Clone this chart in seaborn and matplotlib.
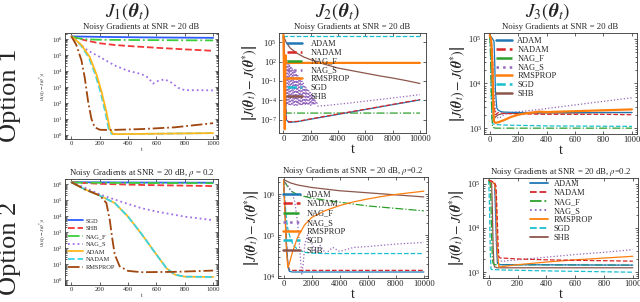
import numpy as np
import pandas as pd
import matplotlib
matplotlib.use("Agg")
import matplotlib.pyplot as plt
import seaborn as sns

# values are log10 of |J(theta_t) - J(theta*)|

# J1, option 1 (t = 0..1000)
j1a_sgd_t = [0, 200, 500, 1000]
j1a_sgd_y = [6.15, 6.12, 6.09, 6.06]
j1a_shb_t = [0, 100, 200, 300, 400, 600, 800, 1000]
j1a_shb_y = [6.15, 5.9, 5.72, 5.62, 5.55, 5.44, 5.34, 5.25]
j1a_nagf_t = [0, 50, 100, 200, 500, 1000]
j1a_nagf_y = [6.15, 6.03, 5.97, 5.94, 5.92, 5.9]
j1a_nags_t = [0, 50, 94, 150, 200, 306, 400, 494, 541, 576, 612, 659, 706, 753, 800, 900, 1000]
j1a_nags_y = [6.15, 5.8, 5.4, 5.1, 4.87, 4.33, 4.0, 3.8, 3.58, 3.2, 3.37, 3.47, 3.26, 2.94, 2.79, 2.79, 2.78]
j1a_adam_t = [0, 71, 129, 176, 212, 247, 271, 294, 400, 600, 800, 1000]
j1a_adam_y = [6.15, 5.61, 4.87, 3.8, 2.72, 1.44, 0.37, 0.05, 0.05, 0.07, 0.09, 0.11]
j1a_nadam_t = [0, 65, 121, 168, 204, 239, 263, 286, 400, 600, 800, 1000]
j1a_nadam_y = [6.15, 5.61, 4.87, 3.8, 2.72, 1.44, 0.37, 0.05, 0.05, 0.07, 0.09, 0.11]
j1a_rms_t = [0, 35, 71, 94, 118, 141, 165, 200, 259, 494, 729, 1000]
j1a_rms_y = [6.15, 5.61, 4.65, 3.58, 2.08, 1.01, 0.47, 0.32, 0.3, 0.36, 0.47, 0.73]

# J1, option 2
j1b_sgd_t = [0, 500, 1000]
j1b_sgd_y = [6.12, 6.1, 6.09]
j1b_shb_t = [0, 200, 500, 1000]
j1b_shb_y = [6.12, 6.02, 5.95, 5.88]
j1b_nagf_t = [0, 500, 1000]
j1b_nagf_y = [6.1, 6.07, 6.06]
j1b_nags_t = [0, 94, 200, 306, 400, 494, 600, 706, 800, 1000]
j1b_nags_y = [6.12, 5.79, 5.36, 5.04, 4.76, 4.5, 4.29, 4.12, 3.97, 3.75]
j1b_adam_t = [0, 94, 200, 306, 400, 494, 600, 671, 729, 800, 1000]
j1b_adam_y = [6.12, 5.68, 5.29, 4.82, 3.97, 2.9, 1.6, 0.75, 0.35, 0.22, 0.2]
j1b_rms_t = [0, 94, 200, 247, 271, 287, 306, 341, 400, 494, 729, 1000]
j1b_rms_y = [6.12, 5.68, 5.29, 4.82, 3.75, 2.68, 1.6, 0.86, 0.58, 0.5, 0.52, 0.6]

# J2, option 1 (t = 0..10000)
j2a_adam_t = [0, 100, 200, 400, 1000, 2000, 4000, 6000, 8000, 10000]
j2a_adam_y = [6.0, 2.0, -7.0, -7.45, -7.35, -6.95, -6.2, -5.45, -4.7, -3.95]
j2a_nadam_t = [0, 100, 200, 400, 1000, 2000, 4000, 6000, 8000, 10000]
j2a_nadam_y = [6.0, 2.0, -7.0, -7.35, -7.3, -6.9, -6.15, -5.4, -4.65, -3.9]
j2a_nagf_t = [0, 50, 100, 150, 300, 10000]
j2a_nagf_y = [6.0, 2.0, 2.3, -6.0, -6.0, -6.0]
j2a_nags_t = [0, 50, 100, 150, 200, 250, 300, 350, 400, 450, 500, 550, 600, 650, 700,
              750, 800, 850, 900, 950, 1000, 1050, 1100, 1150, 1200, 1250, 1300, 1350,
              1400, 1450, 1500, 1550, 1600, 1650, 1700, 1750, 1800, 1850, 1900, 1950,
              2000, 2050, 2100, 2150, 2200, 2250, 2300, 2350, 2400, 2450, 2500, 3000,
              5000, 7000, 9000, 10000]
j2a_nags_y = [6.0, 4.0, 3.0, 2.5, -4.7, 2.2, -4.7, 1.9, -4.8, 1.6, -4.7, 1.3, -4.8, 1.0,
              -4.7, 0.7, -4.8, 0.4, -4.7, 0.13, -4.8, -0.16, -4.7, -0.46, -4.8, -0.75,
              -4.7, -1.05, -4.8, -1.34, -4.7, -1.64, -4.8, -1.93, -4.7, -2.2, -4.8, -2.5,
              -4.7, -2.8, -4.8, -3.1, -4.7, -3.4, -4.7, -3.7, -4.6, -4.0, -4.5, -4.3,
              -4.9, -4.85, -4.4, -3.9, -3.4, -3.13]
j2a_rms_t = [0, 100, 150, 200, 10000]
j2a_rms_y = [6.2, -8.5, 3.0, 1.8, 1.8]
j2a_sgd_t = [0, 10000]
j2a_sgd_y = [6.04, 6.04]
j2a_shb_t = [0, 100, 200, 500, 1000, 1500, 2000, 3000, 4000, 5000, 6000, 7000, 8000, 9000, 10000]
j2a_shb_y = [6.1, 5.5, 5.0, 4.1, 3.3, 2.7, 2.3, 1.6, 1.0, 0.6, 0.2, -0.2, -0.55, -0.95, -1.4]

# J3, option 1 (t = 0..1000)
j3a_adam_t = [0, 10, 20, 30, 35, 40, 50, 60, 80, 100, 200, 400, 600, 800, 1000]
j3a_adam_y = [5.08, 5.05, 5.0, 4.95, 4.5, 3.85, 3.45, 3.4, 3.37, 3.36, 3.35, 3.35, 3.35, 3.35, 3.35]
j3a_nadam_t = [0, 10, 20, 25, 30, 40, 60, 100, 200, 400, 600, 800, 1000]
j3a_nadam_y = [5.08, 5.0, 4.6, 4.0, 3.5, 3.3, 3.35, 3.33, 3.32, 3.31, 3.31, 3.31, 3.3]
j3a_nagf_t = [0, 5, 10, 15, 20, 40, 100, 1000]
j3a_nagf_y = [5.08, 4.7, 4.0, 3.3, 3.02, 3.0, 3.0, 3.0]
j3a_nags_t = [0, 10, 20, 30, 40, 50, 60, 80, 100, 150, 200, 300, 400, 500, 600, 700, 800, 900, 1000]
j3a_nags_y = [5.08, 5.0, 4.5, 3.8, 3.4, 3.25, 3.22, 3.25, 3.3, 3.35, 3.37, 3.4, 3.44, 3.48, 3.52, 3.56, 3.6, 3.64, 3.68]
j3a_rms_t = [0, 10, 20, 25, 30, 40, 60, 100, 150, 200, 250, 300, 350, 400, 600, 800, 1000]
j3a_rms_y = [5.08, 5.0, 4.3, 3.5, 3.15, 3.12, 3.13, 3.18, 3.25, 3.3, 3.33, 3.35, 3.37, 3.36, 3.38, 3.4, 3.42]
j3a_sgd_t = [0, 5, 10, 15, 20, 40, 100, 400, 1000]
j3a_sgd_y = [5.08, 4.8, 3.8, 3.2, 3.1, 3.08, 3.07, 3.05, 3.04]
j3a_shb_t = [0, 10, 15, 20, 25, 30, 40, 60, 100, 200, 400, 600, 800, 1000]
j3a_shb_y = [5.1, 5.0, 4.5, 3.8, 3.3, 3.2, 3.25, 3.3, 3.33, 3.33, 3.34, 3.34, 3.35, 3.35]

# J2, option 2 (t = 0..10000)
j2b_adam_t = [0, 100, 200, 300, 400, 600, 10000]
j2b_adam_y = [6.33, 5.6, 4.8, 4.3, 4.12, 4.1, 4.1]
j2b_nadam_t = [0, 100, 200, 300, 400, 600, 10000]
j2b_nadam_y = [6.33, 5.6, 4.8, 4.3, 4.15, 4.14, 4.14]
j2b_nagf_t = [0, 500, 1000, 2000, 4000, 6000, 8000, 10000]
j2b_nagf_y = [6.33, 6.08, 5.98, 5.9, 5.8, 5.71, 5.65, 5.59]
j2b_nags_t = [0, 300, 600, 800, 1000, 1100, 1200, 1300, 1400, 1500, 1700, 2000, 2300,
              2600, 3000, 3500, 4000, 5000, 6000, 7000, 8000, 9000, 10000]
j2b_nags_y = [6.33, 6.2, 6.05, 5.8, 5.3, 4.9, 4.4, 4.05, 4.3, 4.75, 5.0, 4.8, 4.55,
              4.75, 4.55, 4.7, 4.6, 4.7, 4.72, 4.75, 4.78, 4.8, 4.82]
j2b_rms_t = [0, 100, 200, 300, 400, 600, 1000, 1500, 2000, 3000, 4000, 5000, 6000, 7000, 8000, 9000, 10000]
j2b_rms_y = [6.33, 5.5, 4.6, 4.2, 4.3, 4.55, 4.95, 5.25, 5.43, 5.6, 5.72, 5.81, 5.88, 5.94, 5.99, 6.03, 6.07]
j2b_sgd_t = [0, 100, 200, 300, 500, 700, 1000, 1500, 2000, 3000, 10000]
j2b_sgd_y = [6.33, 5.8, 5.4, 5.15, 4.9, 4.75, 4.65, 4.58, 4.56, 4.55, 4.55]
j2b_shb_t = [0, 500, 1000, 2000, 4000, 6000, 8000, 10000]
j2b_shb_y = [6.35, 6.27, 6.22, 6.16, 6.08, 6.03, 5.98, 5.93]

# J3, option 2 (t = 0..1000)
j3b_adam_t = [0, 20, 40, 45, 50, 55, 60, 80, 100, 1000]
j3b_adam_y = [5.08, 5.05, 5.0, 4.6, 4.0, 3.5, 3.2, 3.17, 3.17, 3.16]
j3b_nadam_t = [0, 20, 40, 50, 55, 60, 65, 70, 80, 100, 200, 400, 600, 800, 1000]
j3b_nadam_y = [5.08, 5.06, 5.03, 4.95, 4.6, 4.1, 3.6, 3.35, 3.32, 3.32, 3.3, 3.28, 3.27, 3.26, 3.25]
j3b_nagf_t = [0, 10, 15, 20, 25, 30, 40, 60, 100, 1000]
j3b_nagf_y = [5.08, 5.0, 4.6, 3.8, 3.3, 3.2, 3.17, 3.17, 3.17, 3.16]
j3b_nags_t = [0, 20, 40, 45, 50, 55, 60, 80, 100, 200, 400, 600, 800, 1000]
j3b_nags_y = [5.08, 5.06, 5.0, 4.5, 3.9, 3.5, 3.3, 3.25, 3.25, 3.28, 3.34, 3.4, 3.45, 3.51]
j3b_rms_t = [0, 20, 40, 50, 55, 60, 70, 100, 200, 400, 600, 800, 1000]
j3b_rms_y = [5.08, 5.05, 5.0, 4.8, 4.2, 3.5, 3.12, 3.13, 3.17, 3.23, 3.28, 3.32, 3.36]
j3b_sgd_t = [0, 5, 10, 15, 20, 40, 100, 400, 1000]
j3b_sgd_y = [5.08, 4.5, 3.5, 3.08, 3.06, 3.06, 3.05, 3.03, 3.0]
j3b_shb_t = [0, 10, 20, 25, 30, 35, 40, 60, 100, 1000]
j3b_shb_y = [5.08, 5.06, 5.0, 4.4, 3.6, 3.2, 3.12, 3.1, 3.1, 3.1]

# styles
j1_colors = {"SGD": "#2f5cff", "SHB": "#f03838", "NAG_F": "#3ccf3c", "NAG_S": "#a070e8",
             "ADAM": "#ffb81c", "NADAM": "#38d4e6", "RMSPROP": "#a0460f"}
tab_colors = {"ADAM": "#1f77b4", "NADAM": "#d62728", "NAG_F": "#2ca02c", "NAG_S": "#9467bd",
              "RMSPROP": "#ff7f0e", "SGD": "#17becf", "SHB": "#8c564b"}
j1_ls = {"SGD": "-", "SHB": "--", "NAG_F": "-.", "NAG_S": ":", "ADAM": "-", "NADAM": "--", "RMSPROP": "-."}
tab_ls = {"ADAM": "-", "NADAM": "--", "NAG_F": "-.", "NAG_S": ":", "RMSPROP": "-", "SGD": "--", "SHB": "-"}

sns.set_theme(style="ticks")
plt.rcParams["font.family"] = ["Liberation Serif", "DejaVu Serif"]
plt.rcParams["mathtext.fontset"] = "stix"
plt.rcParams["axes.linewidth"] = 0.6

fig = plt.figure(figsize=(6.4, 3.02), dpi=100)


def draw(ax, series, colors, styles, lw):
    for name, t, y in series:
        sns.lineplot(x=t, y=10 ** np.array(y), ax=ax, color=colors[name], linestyle=styles[name],
                     linewidth=lw.get(name, lw["default"]), label=name, legend=False)
    ax.set_yscale("log")
    ax.tick_params(direction="in", which="both", top=True, right=True, width=0.5, length=2, pad=1.5)
    ax.tick_params(which="minor", length=1.2)
    for s in ax.spines.values():
        s.set_color("#333333")


def legend(ax, order, x, y, fs, hl, pad, ls, lw):
    h, l = ax.get_legend_handles_labels()
    d = dict(zip(l, h))
    leg = ax.legend([d[k] for k in order], order, loc="upper left", bbox_to_anchor=(x, y),
                    frameon=False, fontsize=fs, handlelength=hl, handletextpad=pad,
                    labelspacing=ls, borderpad=0, borderaxespad=0)
    for line in leg.get_lines():
        line.set_linewidth(lw)


small_title = 6.3
big_lab = r"$\left|J(\boldsymbol{\theta}_t)-J(\boldsymbol{\theta}^{*})\right|$"

# ---- panel 1
ax1 = fig.add_axes([0.1016, 0.5397, 0.2391, 0.351])
draw(ax1, [("SGD", j1a_sgd_t, j1a_sgd_y), ("SHB", j1a_shb_t, j1a_shb_y),
           ("NAG_F", j1a_nagf_t, j1a_nagf_y), ("NAG_S", j1a_nags_t, j1a_nags_y),
           ("NADAM", j1a_nadam_t, j1a_nadam_y), ("ADAM", j1a_adam_t, j1a_adam_y),
           ("RMSPROP", j1a_rms_t, j1a_rms_y)], j1_colors, j1_ls, {"default": 1.3})
ax1.set_xlim(-45, 1035)
ax1.set_ylim(0.55, 2.3e6)
ax1.set_yticks([1e0, 1e1, 1e2, 1e3, 1e4, 1e5, 1e6])
ax1.set_xticks([0, 200, 400, 600, 800, 1000])
ax1.tick_params(labelsize=4.8)
ax1.set_title("Noisy Gradients at SNR = 20 dB", fontsize=small_title, pad=3)
ax1.set_ylabel(r"$|J(\theta_t)-J(\theta^{*})|$", fontsize=3.8, labelpad=2)
ax1.set_xlabel("t", fontsize=4, labelpad=1)

# ---- panel 4
ax4 = fig.add_axes([0.1016, 0.0563, 0.2391, 0.351])
draw(ax4, [("SGD", j1b_sgd_t, j1b_sgd_y), ("SHB", j1b_shb_t, j1b_shb_y),
           ("NAG_F", j1b_nagf_t, j1b_nagf_y), ("NAG_S", j1b_nags_t, j1b_nags_y),
           ("ADAM", j1b_adam_t, j1b_adam_y), ("NADAM", j1b_adam_t, j1b_adam_y),
           ("RMSPROP", j1b_rms_t, j1b_rms_y)], j1_colors, j1_ls, {"default": 1.3})
ax4.set_xlim(-45, 1035)
ax4.set_ylim(0.5, 2.1e6)
ax4.set_yticks([1e0, 1e1, 1e2, 1e3, 1e4, 1e5, 1e6])
ax4.set_xticks([0, 200, 400, 600, 800, 1000])
ax4.tick_params(labelsize=4.8)
ax4.set_title(r"Noisy Gradients at SNR = 20 dB, $\rho$ = 0.2", fontsize=small_title, pad=3)
ax4.set_ylabel(r"$|J(\theta_t)-J(\theta^{*})|$", fontsize=3.8, labelpad=2)
ax4.set_xlabel("t", fontsize=4, labelpad=1)
legend(ax4, ["SGD", "SHB", "NAG_F", "NAG_S", "ADAM", "NADAM", "RMSPROP"],
       0.02, 0.63, 4.6, 2.4, 0.4, 0.35, 1.3)

tab_order = ["ADAM", "NADAM", "NAG_F", "NAG_S", "RMSPROP", "SGD", "SHB"]

# ---- panel 2
ax2 = fig.add_axes([0.436, 0.5596, 0.2297, 0.3311])
draw(ax2, [("SGD", j2a_sgd_t, j2a_sgd_y), ("SHB", j2a_shb_t, j2a_shb_y),
           ("NAG_S", j2a_nags_t, j2a_nags_y), ("NAG_F", j2a_nagf_t, j2a_nagf_y),
           ("ADAM", j2a_adam_t, j2a_adam_y), ("NADAM", j2a_nadam_t, j2a_nadam_y),
           ("RMSPROP", j2a_rms_t, j2a_rms_y)], tab_colors, tab_ls,
     {"default": 0.9, "RMSPROP": 1.6})
ax2.set_xlim(-320, 10450)
ax2.set_ylim(8e-10, 2.8e6)
ax2.set_yticks([1e-7, 1e-4, 1e-1, 1e2, 1e5])
ax2.yaxis.set_minor_locator(matplotlib.ticker.NullLocator())
ax2.set_xticks([0, 2000, 4000, 6000, 8000, 10000])
ax2.tick_params(labelsize=6.2)
ax2.set_title("Noisy Gradients at SNR = 20 dB", fontsize=small_title, pad=3)
ax2.set_ylabel(big_lab, fontsize=10, labelpad=1)
ax2.set_xlabel("t", fontsize=10, labelpad=0)
legend(ax2, tab_order, 0.057, 0.93, 6, 1.8, 1.0, 0.1, 1.8)

# ---- panel 3
ax3 = fig.add_axes([0.7563, 0.5563, 0.2391, 0.3344])
draw(ax3, [("SGD", j3a_sgd_t, j3a_sgd_y), ("NAG_F", j3a_nagf_t, j3a_nagf_y),
           ("SHB", j3a_shb_t, j3a_shb_y), ("NAG_S", j3a_nags_t, j3a_nags_y),
           ("NADAM", j3a_nadam_t, j3a_nadam_y), ("ADAM", j3a_adam_t, j3a_adam_y),
           ("RMSPROP", j3a_rms_t, j3a_rms_y)], tab_colors, tab_ls,
     {"default": 0.9, "RMSPROP": 1.6})
ax3.set_xlim(-40, 1036)
ax3.set_ylim(740, 1.35e5)
ax3.set_yticks([1e3, 1e4, 1e5])
ax3.set_xticks([0, 200, 400, 600, 800, 1000])
ax3.tick_params(labelsize=6.2)
ax3.set_title("Noisy Gradients at SNR = 20 dB", fontsize=small_title, pad=3)
ax3.set_ylabel(big_lab, fontsize=10, labelpad=1)
ax3.set_xlabel("t", fontsize=10, labelpad=0)
legend(ax3, tab_order, 0.076, 0.96, 6, 2.0, 0.6, 0.1, 1.8)

# ---- panel 5
ax5 = fig.add_axes([0.4344, 0.0795, 0.2344, 0.3344])
draw(ax5, [("SHB", j2b_shb_t, j2b_shb_y), ("NAG_F", j2b_nagf_t, j2b_nagf_y),
           ("NAG_S", j2b_nags_t, j2b_nags_y), ("SGD", j2b_sgd_t, j2b_sgd_y),
           ("NADAM", j2b_nadam_t, j2b_nadam_y), ("ADAM", j2b_adam_t, j2b_adam_y),
           ("RMSPROP", j2b_rms_t, j2b_rms_y)], tab_colors, tab_ls, {"default": 0.9})
ax5.set_xlim(-400, 10300)
ax5.set_ylim(9e3, 2.6e6)
ax5.set_yticks([1e4, 1e5, 1e6])
ax5.set_xticks([0, 2000, 4000, 6000, 8000, 10000])
ax5.tick_params(labelsize=6.2)
ax5.set_title(r"Noisy Gradients at SNR = 20 dB, $\rho$=0.2", fontsize=small_title, pad=3)
ax5.set_ylabel(big_lab, fontsize=10, labelpad=1)
ax5.set_xlabel("t", fontsize=10, labelpad=0)
legend(ax5, tab_order, 0.033, 0.86, 6, 2.0, 0.8, 0.15, 1.8)

# ---- panel 6
ax6 = fig.add_axes([0.7547, 0.0795, 0.2422, 0.3311])
draw(ax6, [("SGD", j3b_sgd_t, j3b_sgd_y), ("SHB", j3b_shb_t, j3b_shb_y),
           ("NAG_F", j3b_nagf_t, j3b_nagf_y), ("ADAM", j3b_adam_t, j3b_adam_y),
           ("NAG_S", j3b_nags_t, j3b_nags_y), ("RMSPROP", j3b_rms_t, j3b_rms_y),
           ("NADAM", j3b_nadam_t, j3b_nadam_y)], tab_colors, tab_ls, {"default": 0.9})
ax6.set_xlim(-40, 1036)
ax6.set_ylim(740, 1.35e5)
ax6.set_yticks([1e3, 1e4, 1e5])
ax6.set_xticks([0, 200, 400, 600, 800, 1000])
ax6.tick_params(labelsize=6.2)
ax6.set_title(r"Noisy Gradients at SNR = 20 dB, $\rho$=0.2", fontsize=small_title, pad=3)
ax6.set_ylabel(big_lab, fontsize=10, labelpad=1)
ax6.set_xlabel("t", fontsize=10, labelpad=0)
legend(ax6, tab_order, 0.30, 0.98, 6, 2.2, 0.7, 0.12, 1.3)

# column headers and row labels
for x, k in [(0.2, 1), (0.528, 2), (0.856, 3)]:
    fig.text(x, 0.963, r"$J_{%d}(\boldsymbol{\theta}_t)$" % k, fontsize=14, ha="center", va="center")
fig.text(0.016, 0.685, "Option 1", fontsize=19, rotation=90, ha="center", va="center")
fig.text(0.016, 0.179, "Option 2", fontsize=19, rotation=90, ha="center", va="center")

fig.savefig("out.png", dpi=100)
